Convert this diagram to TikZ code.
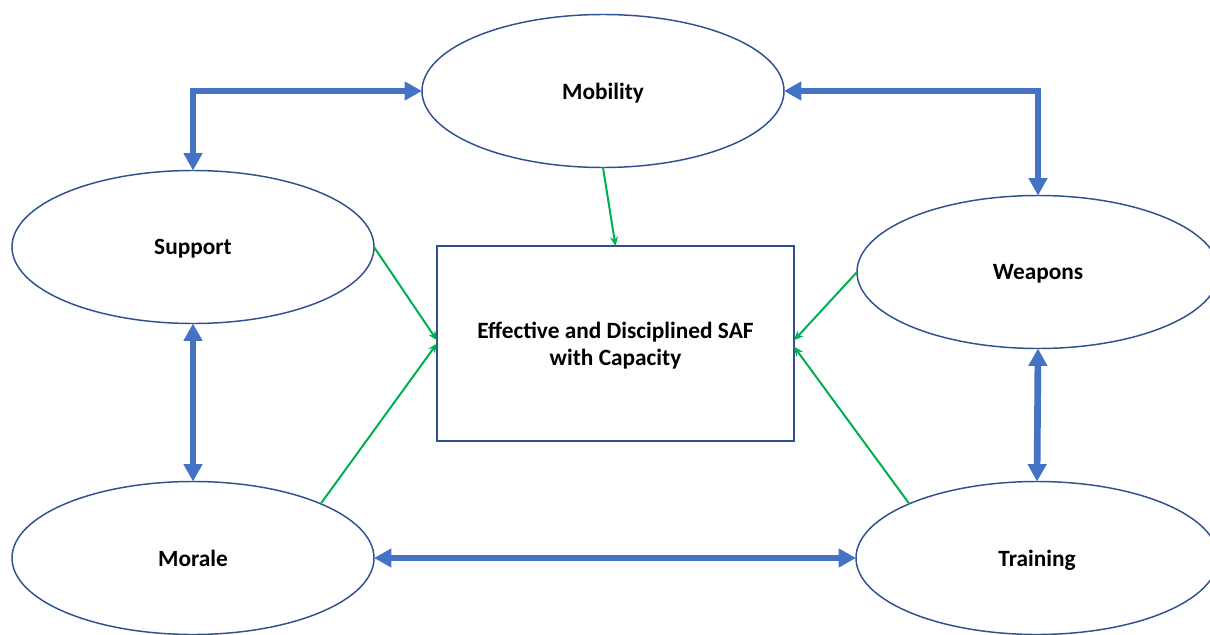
\documentclass[tikz,border=0pt]{standalone}
\usepackage{fontspec}
\setmainfont{Carlito}
\usetikzlibrary{arrows.meta,shapes.geometric}
\definecolor{rimblue}{HTML}{2F528F}
\definecolor{linkblue}{HTML}{4472C4}
\definecolor{feedgreen}{HTML}{00B050}
\begin{document}
\begin{tikzpicture}[x=0.75pt,y=-0.75pt,
  factor/.style={ellipse,draw=rimblue,line width=1.1pt,fill=white,
    minimum width=271.5pt,minimum height=114.75pt,inner sep=0pt,outer sep=0pt,
    text depth=0pt,font=\fontsize{17.5}{21}\selectfont\bfseries},
  goal/.style={rectangle,draw=rimblue,line width=1.1pt,fill=white,
    minimum width=267.75pt,minimum height=146.25pt,inner sep=0pt,outer sep=0pt,
    text depth=0pt,align=center,font=\fontsize{17.5}{20}\selectfont\bfseries},
  link/.style={draw=linkblue,line width=5pt,line join=miter,
    {Triangle[length=13pt,width=13.5pt]}-{Triangle[length=13pt,width=13.5pt]}},
  feed/.style={draw=feedgreen,line width=1.5pt,
    -{Stealth[length=7pt,width=6pt]}}]
  \useasboundingbox (0,0) rectangle (1210,635);

  % factor ellipses
  \node[factor] (mob) at (603,91)  {Mobility};
  \node[factor] (sup) at (193,247) {Support};
  \node[factor] (wea) at (1038,272) {Weapons};
  \node[factor] (mor) at (193,558) {Morale};
  \node[factor] (trn) at (1037,558) {Training};

  % central outcome
  \node[goal] (box) at (615.5,343.5) {Effective and Disciplined SAF\\with Capacity};

  % two-way links between factors
  \draw[link] (mob.west) -| (sup.north);
  \draw[link] (mob.east) -| (wea.north);
  \draw[link] (sup.south) -- (mor.north);
  \draw[link] (wea.south) -- (trn.north);
  \draw[link] (mor.east) -- (trn.west);

  % contributions to the outcome
  \draw[feed] (mob.south) -- (box.north);
  \draw[feed] (sup.east) -- (box.179);
  \draw[feed] (mor.23) -- (box.180.5);
  \draw[feed] (wea.west) -- (box.1);
  \draw[feed] (trn.157) -- (box.-1);
\end{tikzpicture}
\end{document}
